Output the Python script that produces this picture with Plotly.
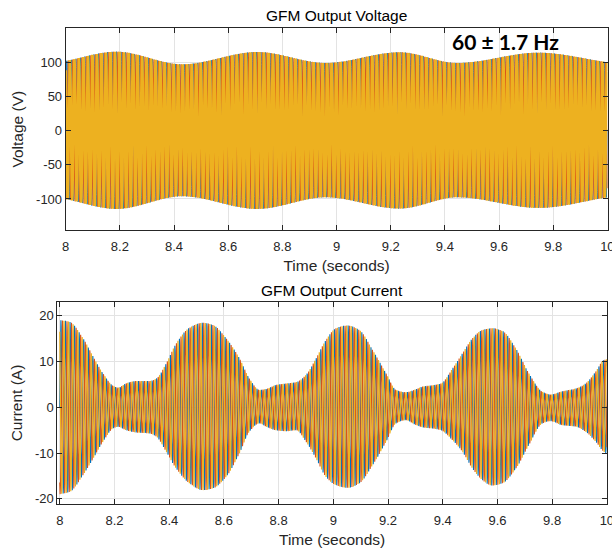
import numpy as np
import plotly.graph_objects as go

# ---------------- data ----------------
# carrier frequency (Hz) from the annotation
carrier_hz = 60.0
freq_label = "60 ± 1.7 Hz"

# voltage envelope knots (s, V)
volt_t = [8.000, 8.187, 8.430, 8.707, 8.960, 9.233, 9.445, 9.746, 10.000]
volt_upper = [101.5, 115.0, 96.6, 114.6, 98.5, 114.2, 98.5, 113.6, 99.5]
volt_lower = [-100.1, -114.5, -96.0, -114.5, -97.5, -114.0, -97.5, -113.0, -97.5]

# current envelope knots (s, A)
curr_t = [8.000, 8.036, 8.085, 8.122, 8.158, 8.195, 8.213, 8.243, 8.280, 8.328,
          8.353, 8.389, 8.426, 8.474, 8.523, 8.560, 8.608, 8.657, 8.693, 8.730,
          8.754, 8.791, 8.827, 8.864, 8.900, 8.937, 8.973, 9.010, 9.052, 9.095,
          9.144, 9.193, 9.229, 9.265, 9.300, 9.330, 9.360, 9.393, 9.436, 9.472,
          9.509, 9.545, 9.581, 9.618, 9.667, 9.715, 9.764, 9.794, 9.837, 9.886,
          9.922, 9.959, 9.989, 10.000]
curr_upper = [19.1, 18.7, 15.1, 11.1, 7.4, 4.7, 4.3, 5.25, 5.75, 5.75,
              6.3, 9.6, 14.0, 17.4, 18.5, 18.0, 15.1, 10.7, 6.3, 3.8,
              4.0, 4.9, 5.2, 5.5, 7.1, 10.7, 14.7, 17.3, 17.9, 16.9,
              12.5, 7.4, 3.8, 3.3, 3.9, 4.6, 4.8, 5.2, 8.5, 11.8,
              15.1, 16.9, 17.3, 16.7, 12.9, 7.4, 3.4, 2.8, 3.5, 4.1,
              5.2, 7.8, 10.35, 10.5]
curr_lower = [-19.0, -18.5, -14.8, -11.2, -7.5, -4.6, -4.25, -5.0, -5.5, -5.7,
              -6.4, -9.7, -13.4, -16.6, -18.1, -17.7, -15.2, -10.0, -5.3, -3.5,
              -4.2, -5.0, -5.2, -5.0, -7.5, -11.2, -15.2, -17.0, -17.6, -16.6,
              -12.6, -7.5, -3.5, -2.8, -3.8, -4.4, -4.6, -5.0, -7.2, -9.7,
              -13.4, -15.9, -17.1, -16.6, -13.4, -8.2, -3.5, -3.0, -3.9, -4.2,
              -5.3, -7.5, -9.7, -10.1]

phase_names = ["Phase A", "Phase B", "Phase C"]
phase_deg = [0.0, -120.0, 120.0]
phase_colors = ["#0072BD", "#D95319", "#EDB120"]

volt_yticks = [-100, -50, 0, 50, 100]
volt_yticklabels = ["-100", "-50", "0", "50", "100"]
curr_yticks = [-20, -10, 0, 10, 20]
curr_yticklabels = ["-20", "-10", "0", "10", "20"]
time_ticks = [8, 8.2, 8.4, 8.6, 8.8, 9, 9.2, 9.4, 9.6, 9.8, 10]
time_ticklabels = ["8", "8.2", "8.4", "8.6", "8.8", "9", "9.2", "9.4", "9.6", "9.8", "10"]


# ---------------- helpers ----------------
def pchip(xk, yk, x):
    xk = np.asarray(xk, float)
    yk = np.asarray(yk, float)
    h = np.diff(xk)
    d = np.diff(yk) / h
    n = len(xk)
    m = np.zeros(n)
    for i in range(1, n - 1):
        if d[i - 1] * d[i] <= 0:
            m[i] = 0.0
        else:
            w1 = 2 * h[i] + h[i - 1]
            w2 = h[i] + 2 * h[i - 1]
            m[i] = (w1 + w2) / (w1 / d[i - 1] + w2 / d[i])
    m[0] = d[0]
    m[-1] = d[-1]
    idx = np.clip(np.searchsorted(xk, x) - 1, 0, n - 2)
    hh = h[idx]
    s = (x - xk[idx]) / hh
    h00 = 2 * s**3 - 3 * s**2 + 1
    h10 = s**3 - 2 * s**2 + s
    h01 = -2 * s**3 + 3 * s**2
    h11 = s**3 - s**2
    return h00 * yk[idx] + h10 * hh * m[idx] + h01 * yk[idx + 1] + h11 * hh * m[idx + 1]


t = np.linspace(8.0, 10.0, 12001)


def phases(knot_t, up, lo):
    u = pchip(knot_t, up, t)
    l = pchip(knot_t, lo, t)
    c = (u + l) / 2
    a = (u - l) / 2
    return [c + a * np.sin(2 * np.pi * carrier_hz * t + np.deg2rad(p)) for p in phase_deg]


volt = phases(volt_t, volt_upper, volt_lower)
curr = phases(curr_t, curr_upper, curr_lower)

volt_widths = [1.0, 1.4, 2.8]
curr_widths = [1.1, 1.1, 1.2]

fig = go.Figure()
for name, col, y, w in zip(phase_names, phase_colors, volt, volt_widths):
    fig.add_trace(go.Scatter(x=t, y=y, mode="lines", name=name,
                             line=dict(color=col, width=w),
                             xaxis="x", yaxis="y", showlegend=False))
for name, col, y, w in zip(phase_names, phase_colors, curr, curr_widths):
    fig.add_trace(go.Scatter(x=t, y=y, mode="lines", name=name,
                             line=dict(color=col, width=w),
                             xaxis="x2", yaxis="y2", showlegend=False))

W, H = 612, 550
font_fam = "Liberation Sans, Arial, Helvetica, sans-serif"
axis_col = "#262626"
grid_col = "#e3e3e3"

common_x = dict(
    tickvals=time_ticks, ticktext=time_ticklabels,
    showgrid=True, gridcolor=grid_col, gridwidth=1,
    showline=True, linecolor=axis_col, linewidth=1, mirror="ticks",
    ticks="inside", ticklen=5, tickcolor=axis_col, ticklabelstandoff=4,
    tickfont=dict(size=13, color=axis_col, family=font_fam),
    zeroline=False, automargin=False, ticklabeloverflow="allow",
)
common_y = dict(
    showgrid=True, gridcolor=grid_col, gridwidth=1,
    showline=True, linecolor=axis_col, linewidth=1, mirror="ticks",
    ticks="inside", ticklen=5, tickcolor=axis_col,
    tickfont=dict(size=13, color=axis_col, family=font_fam),
    zeroline=False, automargin=False, ticklabeloverflow="allow",
)

fig.update_layout(
    width=W, height=H,
    margin=dict(l=0, r=0, t=0, b=0, autoexpand=False),
    paper_bgcolor="white", plot_bgcolor="white",
    font=dict(family=font_fam, color=axis_col),
    xaxis=dict(common_x, domain=[65.7 / W, 607.5 / W], range=[8, 10.0005], anchor="y",
               title=dict(text="Time (seconds)", font=dict(size=15.5, color=axis_col), standoff=7)),
    yaxis=dict(common_y, domain=[1 - 230 / H, 1 - 28.3 / H], range=[-145.3, 149.2], anchor="x",
               tickvals=volt_yticks, ticktext=volt_yticklabels,
               title=dict(text="Voltage (V)", font=dict(size=15.5, color=axis_col), standoff=8)),
    xaxis2=dict(common_x, domain=[57.3 / W, 607.0 / W], range=[7.991, 10.0005], anchor="y2",
                title=dict(text="Time (seconds)", font=dict(size=15.5, color=axis_col), standoff=7)),
    yaxis2=dict(common_y, domain=[1 - 504.3 / H, 1 - 301.7 / H], range=[-21.2, 23.1], anchor="x2",
                tickvals=curr_yticks, ticktext=curr_yticklabels,
                title=dict(text="Current (A)", font=dict(size=15.5, color=axis_col), standoff=8)),
    annotations=[
        dict(text="GFM Output Voltage", xref="paper", yref="paper",
             x=336.6 / W, y=1 - 15.5 / H, xanchor="center", yanchor="middle",
             showarrow=False, font=dict(size=15.5, color="#000000", family=font_fam)),
        dict(text="GFM Output Current", xref="paper", yref="paper",
             x=332 / W, y=1 - 290 / H, xanchor="center", yanchor="middle",
             showarrow=False, font=dict(size=15.5, color="#000000", family=font_fam)),
        dict(text="<b>" + freq_label + "</b>", xref="paper", yref="paper",
             x=506 / W, y=1 - 41.7 / H, xanchor="center", yanchor="middle",
             showarrow=False, font=dict(size=21, color="#000000", family="Lato, Open Sans, sans-serif")),
    ],
)

fig.write_html(
    "out.html",
    config={"displayModeBar": False},
    post_script="document.body.style.margin='0';document.body.style.overflow='hidden';",
)
